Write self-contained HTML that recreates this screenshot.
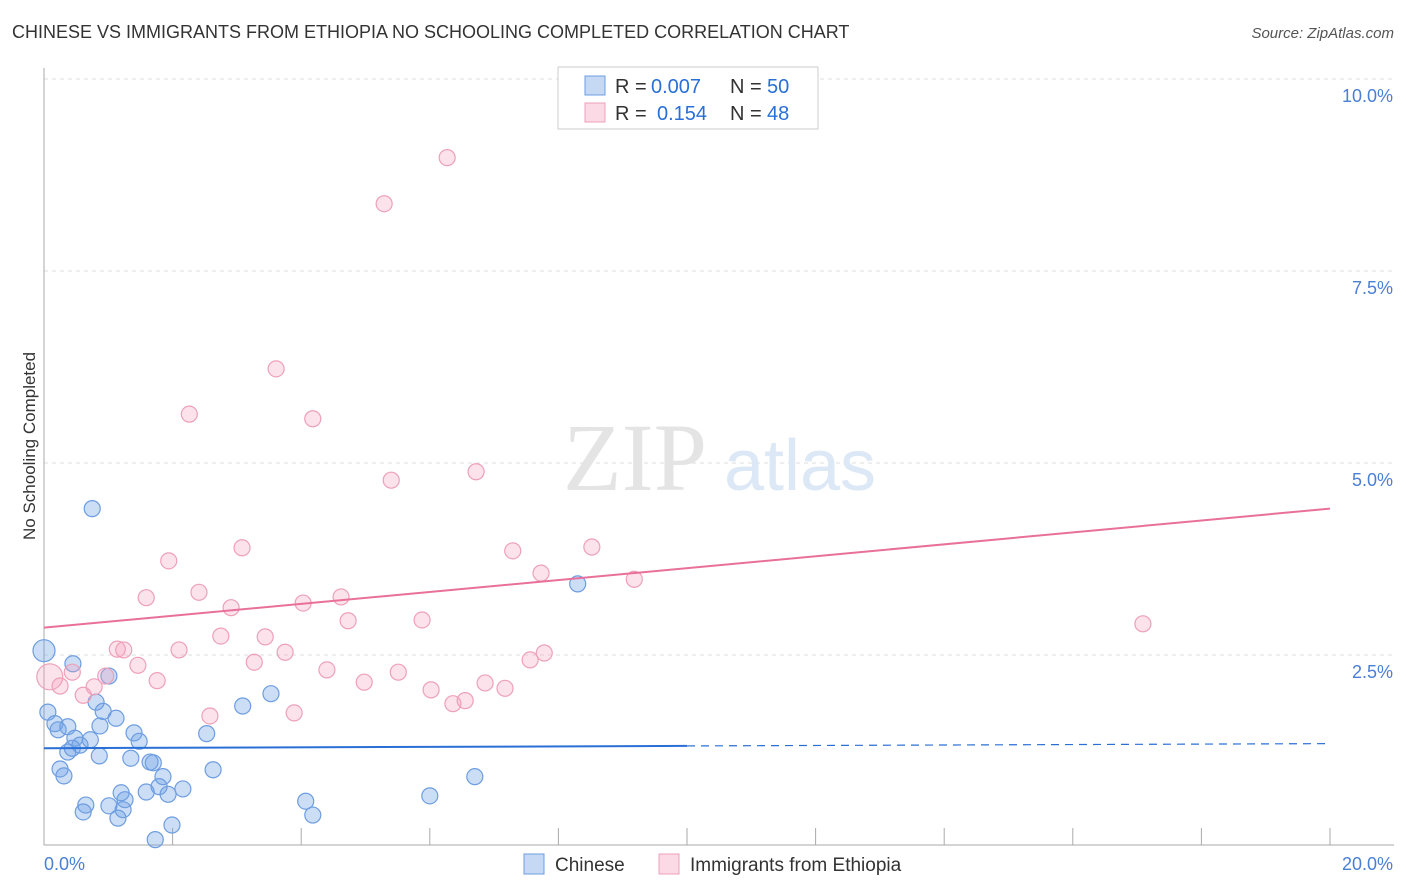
<!DOCTYPE html>
<html><head><meta charset="utf-8">
<style>
body{margin:0;background:#fff;font-family:"Liberation Sans",sans-serif;}
#wrap{position:relative;width:1406px;height:892px;overflow:hidden;}
.t{position:absolute;white-space:nowrap;}
</style></head>
<body>
<div id="wrap">
<div class="t" style="left:12px;top:22px;font-size:18px;color:#333;">CHINESE VS IMMIGRANTS FROM ETHIOPIA NO SCHOOLING COMPLETED CORRELATION CHART</div>
<div class="t" style="right:12px;top:25px;font-size:15px;color:#555;font-style:italic;">Source: ZipAtlas.com</div>
<div class="t" style="left:-55px;top:445px;font-size:17px;color:#333;transform:rotate(-90deg);transform-origin:center;width:170px;text-align:center;">No Schooling Completed</div>
<svg id="svg" width="1406" height="892" style="position:absolute;left:0;top:0;"></svg>
</div>
<script>
const chineseX=[0,0.06,0.17,0.22,0.45,0.37,0.48,0.37,0.44,0.56,0.72,0.25,0.31,0.86,0.65,0.61,0.75,0.81,0.92,1.01,1.12,0.87,1.40,1.48,1.35,1.65,1.70,1.85,1.79,1.59,1.20,1.26,1.01,1.23,1.15,1.93,2.16,1.99,1.73,2.63,2.53,3.09,3.53,4.07,4.18,6.00,6.70,8.30];
const chineseY=[2.53,1.73,1.58,1.50,2.36,1.54,1.39,1.21,1.26,1.30,1.37,0.99,0.90,1.16,0.52,0.43,4.38,1.86,1.74,2.20,1.65,1.55,1.46,1.35,1.13,1.08,1.07,0.89,0.76,0.69,0.68,0.59,0.51,0.46,0.35,0.66,0.73,0.26,0.07,0.98,1.45,1.81,1.97,0.57,0.39,0.64,0.89,3.40];
const ethX=[0.09,0.25,0.44,0.78,0.61,0.96,1.14,1.24,1.46,1.76,1.59,1.94,2.10,2.26,2.41,2.58,2.75,2.91,3.08,3.27,3.44,3.61,3.75,3.89,4.03,4.18,4.40,4.62,4.73,4.98,5.29,5.40,5.51,5.88,6.02,6.27,6.36,6.55,6.72,6.86,7.17,7.29,7.56,7.73,7.78,8.52,9.18,17.09];
const ethY=[2.19,2.07,2.25,2.06,1.95,2.20,2.55,2.54,2.34,2.14,3.22,3.70,2.54,5.61,3.29,1.68,2.72,3.09,3.87,2.38,2.71,6.20,2.51,1.72,3.15,5.55,2.28,3.23,2.92,2.12,8.35,4.75,2.25,2.93,2.02,8.95,1.84,1.88,4.86,2.11,2.04,3.83,2.41,3.54,2.50,3.88,3.46,2.88];
const chineseTrend=[1.26,1.32];
const ethTrend=[2.83,4.38];
const yTicks=[2.5,5.0,7.5,10.0];
const xTicks=[2,4,6,8,10,12,14,16,18,20];

const X=v=>44+v*64.3, Y=v=>845-v*76.8;
const svg=document.getElementById('svg');
const NS='http://www.w3.org/2000/svg';
function mk(tag,attrs,name){const e=document.createElementNS(NS,tag);for(const k in attrs)e.setAttribute(k,attrs[k]);


svg.appendChild(e);return e;}
// grid
yTicks.forEach(t=>{mk('line',{x1:44,x2:1394,y1:Y(t)+2,y2:Y(t)+2,stroke:'#ddd','stroke-dasharray':'4,4'},'gridline');
const tx=mk('text',{x:1393,y:Y(t)+25,'text-anchor':'end','font-size':18,fill:'#4a7fd4','font-family':'Liberation Sans'},'y-tick-label');tx.textContent=t.toFixed(1)+'%';});
mk('line',{x1:44,x2:1394,y1:79,y2:79,stroke:'#ddd','stroke-dasharray':'4,4'},'gridline');
mk('line',{x1:44,x2:44,y1:68,y2:845,stroke:'#aaa'},'y-axis-line');
mk('line',{x1:44,x2:1394,y1:845,y2:845,stroke:'#aaa'},'x-axis-line');
xTicks.forEach(t=>mk('line',{x1:X(t),x2:X(t),y1:828,y2:845,stroke:'#aaa'},'x-tick'));
// watermark
let w=mk('text',{x:635,y:490,'text-anchor':'middle','font-size':96,fill:'#e4e4e4','font-family':'Liberation Serif'},'watermark-zip');w.textContent='ZIP';
w=mk('text',{x:800,y:490,'text-anchor':'middle','font-size':72,fill:'#dce8f6','font-family':'Liberation Sans'},'watermark-atlas');w.textContent='atlas';
// points
chineseX.forEach((x,i)=>mk('circle',{cx:X(x),cy:Y(chineseY[i]),r:i==0?11:8,fill:'rgba(110,160,230,0.35)',stroke:'#6d9de0','stroke-width':1.2},'chinese-point'));
ethX.forEach((x,i)=>mk('circle',{cx:X(x),cy:Y(ethY[i]),r:i==0?13:8,fill:'rgba(245,160,190,0.3)',stroke:'#eea0b8','stroke-width':1.2},'ethiopia-point'));
// trends
const bm=chineseTrend[0]+(chineseTrend[1]-chineseTrend[0])*0.5;
mk('line',{x1:X(0),y1:Y(chineseTrend[0]),x2:X(10),y2:Y(bm),stroke:'#2a6fd6','stroke-width':2},'chinese-trend-line');
mk('line',{x1:X(10),y1:Y(bm),x2:X(20),y2:Y(chineseTrend[1]),stroke:'#2a6fd6','stroke-width':1.2,'stroke-dasharray':'8,6'},'chinese-trend-extension');
mk('line',{x1:X(0),y1:Y(ethTrend[0]),x2:X(20),y2:Y(ethTrend[1]),stroke:'#e8709a','stroke-width':2},'ethiopia-trend-line');
// x labels
let t=mk('text',{x:44,y:870,'font-size':18,fill:'#4a7fd4','font-family':'Liberation Sans'},'x-tick-label');t.textContent='0.0%';
t=mk('text',{x:1393,y:870,'text-anchor':'end','font-size':18,fill:'#4a7fd4','font-family':'Liberation Sans'},'x-tick-label');t.textContent='20.0%';
// top legend
mk('rect',{x:558,y:67,width:260,height:62,fill:'#fff',stroke:'#ccc'},'legend-box');
mk('rect',{x:585,y:76,width:20,height:19,fill:'rgba(110,160,230,0.4)',stroke:'#6d9de0'},'legend-swatch-chinese');
mk('rect',{x:585,y:103,width:20,height:19,fill:'rgba(245,160,190,0.4)',stroke:'#eea0b8'},'legend-swatch-ethiopia');
function lt(x,y,s,c,n){const e=mk('text',{x:x,y:y,'font-size':20,fill:c,'font-family':'Liberation Sans'},n);e.textContent=s;}
lt(615,93,'R =','#333','legend-r-label');lt(651,93,'0.007','#2a6fd6','legend-r-chinese');lt(730,93,'N =','#333','legend-n-label');lt(767,93,'50','#2a6fd6','legend-n-chinese');
lt(615,120,'R =','#333','legend-r-label');lt(657,120,'0.154','#2a6fd6','legend-r-ethiopia');lt(730,120,'N =','#333','legend-n-label');lt(767,120,'48','#2a6fd6','legend-n-ethiopia');
// bottom legend
mk('rect',{x:524,y:854,width:20,height:20,fill:'rgba(110,160,230,0.4)',stroke:'#6d9de0'},'bottom-legend-swatch-chinese');
t=mk('text',{x:555,y:871,'font-size':19,fill:'#333','font-family':'Liberation Sans'},'bottom-legend-chinese');t.textContent='Chinese';
mk('rect',{x:659,y:854,width:20,height:20,fill:'rgba(245,160,190,0.4)',stroke:'#eea0b8'},'bottom-legend-swatch-ethiopia');
t=mk('text',{x:690,y:871,'font-size':19,fill:'#333','font-family':'Liberation Sans'},'bottom-legend-ethiopia');t.textContent='Immigrants from Ethiopia';
</script>
</body></html>
